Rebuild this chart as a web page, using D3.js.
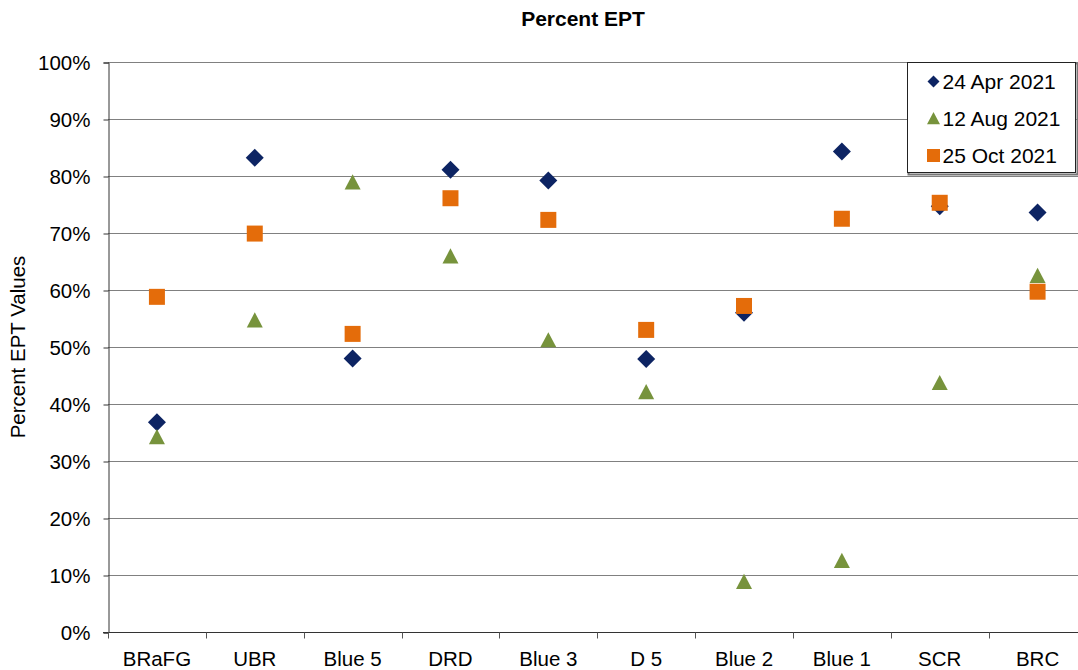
<!doctype html>
<html>
<head>
<meta charset="utf-8"/>
<script src="https://cdnjs.cloudflare.com/ajax/libs/d3/7.8.5/d3.min.js"></script>
<style>
  body { margin: 0; background: #fff; overflow: hidden; }
  svg { display: block; }
  text { font-family: "Liberation Sans", Arial, sans-serif; fill: #000; }
  .grid line { stroke: #808080; stroke-width: 1px; }
</style>
</head>
<body>
<svg width="1078" height="670"></svg>
<script>
var categories = ["BRaFG", "UBR", "Blue 5", "DRD", "Blue 3", "D 5", "Blue 2", "Blue 1", "SCR", "BRC"];
var seriesNames = ["24 Apr 2021", "12 Aug 2021", "25 Oct 2021"];
var apr2021 = [36.8, 83.2, 48.0, 81.1, 79.2, 47.9, 56.0, 84.3, 74.7, 73.6];
var aug2021 = [34.2, 54.7, 78.9, 65.9, 51.2, 42.1, 8.8, 12.5, 43.7, 62.5];
var oct2021 = [58.8, 69.9, 52.3, 76.1, 72.3, 53.0, 57.2, 72.5, 75.3, 59.7];
var yTicks = [0, 10, 20, 30, 40, 50, 60, 70, 80, 90, 100];

var colors = ["#0D2463", "#77933C", "#E46C0A"];

// marker shapes: w = full width in px
function diamond(w) { var h = w / 2; return "M0," + (-h) + "L" + h + ",0L0," + h + "L" + (-h) + ",0Z"; }
function triangle(w) { var h = w / 2; return "M0," + (-h) + "L" + h + "," + (h * 0.9) + "L" + (-h) + "," + (h * 0.9) + "Z"; }
function square(w) { var h = w / 2; return "M" + (-h) + "," + (-h) + "H" + h + "V" + h + "H" + (-h) + "Z"; }
var shapes = [diamond, triangle, square];
var sizes = [18, 16, 16];
var legendSizes = [12, 13, 13];

var svg = d3.select("svg");
var W = 1078, H = 670;
// the plot area runs a little past the right edge of the picture
var plotLeft = 108, plotRight = 1086.5, plotTop = 62, plotBottom = 632;

var x = d3.scaleBand().domain(categories).range([plotLeft, plotRight]);
var y = d3.scaleLinear().domain([0, 100]).range([plotBottom, plotTop]);

// title
svg.append("text").attr("x", 583).attr("y", 26)
  .attr("text-anchor", "middle").style("font-size", "21px").style("font-weight", "bold")
  .text("Percent EPT");

// gridlines
svg.append("g").attr("class", "grid")
  .selectAll("line").data(yTicks.slice(1)).enter().append("line")
  .attr("x1", plotLeft).attr("x2", W)
  .attr("y1", d => Math.round(y(d)) + 0.5).attr("y2", d => Math.round(y(d)) + 0.5);

// y axis
var yAxis = svg.append("g").attr("transform", "translate(" + (plotLeft + 0.5) + ",0.5)")
  .call(d3.axisLeft(y).tickValues(yTicks).tickFormat(d => d + "%").tickSize(5).tickPadding(13));
yAxis.select(".domain").attr("stroke", "#333");
yAxis.selectAll(".tick line").attr("stroke", "#333");
yAxis.selectAll("text").style("font-size", "20.5px").style("font-family", "Liberation Sans, Arial, sans-serif")
  .attr("dy", "0.35em");

// x axis
var xg = svg.append("g").attr("transform", "translate(0," + (Math.round(y(0)) + 0.5) + ")");
xg.append("line").attr("x1", plotLeft - 5).attr("x2", W).attr("stroke", "#333");
var bounds = [plotLeft].concat(categories.map(d => x(d) + x.bandwidth()));
xg.selectAll("line.tk").data(bounds).enter().append("line")
  .attr("class", "tk")
  .attr("x1", d => Math.round(d) + 0.5).attr("x2", d => Math.round(d) + 0.5)
  .attr("y1", 0).attr("y2", 6).attr("stroke", "#555");
xg.selectAll("text").data(categories).enter().append("text")
  .attr("x", d => x(d) + x.bandwidth() / 2).attr("y", 33)
  .attr("text-anchor", "middle").style("font-size", "20.5px").text(d => d);

// y label
svg.append("text").attr("transform", "translate(25," + ((plotTop + plotBottom) / 2) + ") rotate(-90)")
  .attr("text-anchor", "middle").style("font-size", "20.5px").text("Percent EPT Values");

// points
var allSeries = [apr2021, aug2021, oct2021];
allSeries.forEach(function (vals, s) {
  svg.append("g").selectAll("path").data(vals).enter().append("path")
    .attr("d", shapes[s](sizes[s]))
    .attr("transform", (d, i) => "translate(" + (x(categories[i]) + x.bandwidth() / 2) + "," + y(d) + ")")
    .attr("fill", colors[s]);
});

// legend
var lg = svg.append("g").attr("transform", "translate(907.5,62.5)");
lg.append("rect").attr("x", 1).attr("y", 1).attr("width", 169).attr("height", 111).attr("fill", "none")
  .attr("stroke", "#777").attr("stroke-width", 2);
lg.append("rect").attr("width", 168).attr("height", 110).attr("fill", "#fff").attr("stroke", "#222");
seriesNames.forEach(function (name, s) {
  var gy = 19 + s * 37;
  lg.append("path").attr("d", shapes[s](legendSizes[s]))
    .attr("transform", "translate(26," + gy + ")").attr("fill", colors[s]);
  lg.append("text").attr("x", 35).attr("y", gy + 7).style("font-size", "21px").text(name);
});
</script>
</body>
</html>
